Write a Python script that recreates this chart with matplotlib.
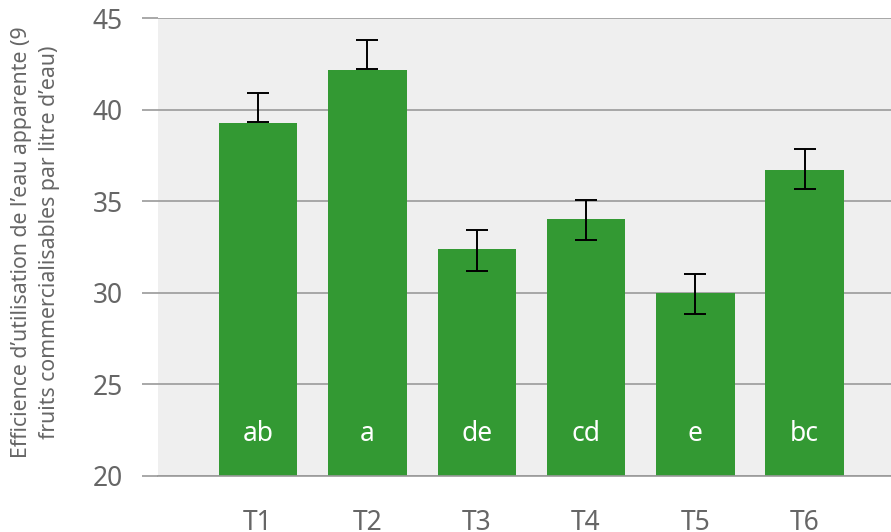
import matplotlib.pyplot as plt
import numpy as np

plt.rcParams['font.family'] = ['Noto Sans', 'DejaVu Sans']
plt.rcParams['font.weight'] = 'light'

# Efficience de l'eau par traitement
traitements = ["T1", "T2", "T3", "T4", "T5", "T6"]
moyennes = [39.3, 42.2, 32.4, 34.0, 30.0, 36.7]
borne_basse = [39.35, 42.25, 31.2, 32.85, 28.85, 35.65]
borne_haute = [40.9, 43.8, 33.4, 35.05, 31.0, 37.85]
lettres = ["ab", "a", "de", "cd", "e", "bc"]

gris_texte = "#666666"
gris_ligne = "#9a9a9a"
vert = "#339933"

fig = plt.figure(figsize=(8.91, 5.32), dpi=100)
ax = fig.add_axes([158 / 891, 1 - 475.5 / 532, 1 - 158 / 891, (475.5 - 18.3) / 532])
ax.set_facecolor("#efefef")

x = np.arange(len(traitements))
ax.bar(x, moyennes, width=0.717, color=vert, zorder=2)

# barres d'erreur tracées entre leurs bornes (centre + demi-étendue)
bas = np.array(borne_basse)
haut = np.array(borne_haute)
ax.errorbar(x, (bas + haut) / 2, yerr=(haut - bas) / 2, fmt="none", ecolor="black",
            elinewidth=1.4, capsize=7.8, capthick=1.4, zorder=3)

for xi, lettre in zip(x, lettres):
    ax.text(xi, 22.25, lettre, ha="center", va="center", color="white",
            fontsize=19, zorder=4)

ax.set_ylim(20, 45)
ax.set_yticks([20, 25, 30, 35, 40, 45])
ax.set_xlim(-0.916, 5.79)
ax.set_xticks(x)
ax.set_xticklabels(traitements)

ax.yaxis.grid(True, color=gris_ligne, linewidth=1.2, zorder=1)
ax.set_axisbelow(True)
for s in ["top", "right", "left"]:
    ax.spines[s].set_visible(False)
ax.spines["bottom"].set_color(gris_ligne)
ax.spines["bottom"].set_linewidth(1.2)

ax.tick_params(axis="y", length=11.5, width=1.2, color=gris_ligne,
               pad=14, labelsize=19, labelcolor=gris_texte)
ax.tick_params(axis="x", length=0, pad=24, labelsize=19, labelcolor=gris_texte)

fig.text(0.040, 0.545,
         "Efficience d\u2019utilisation de l\u2019eau apparente (9\n"
         "fruits commercialisables par litre d\u2019eau)",
         rotation=90, ha="center", va="center", multialignment="center",
         fontsize=15.3, color=gris_texte, linespacing=1.45)

fig.savefig("out.png", dpi=100)
